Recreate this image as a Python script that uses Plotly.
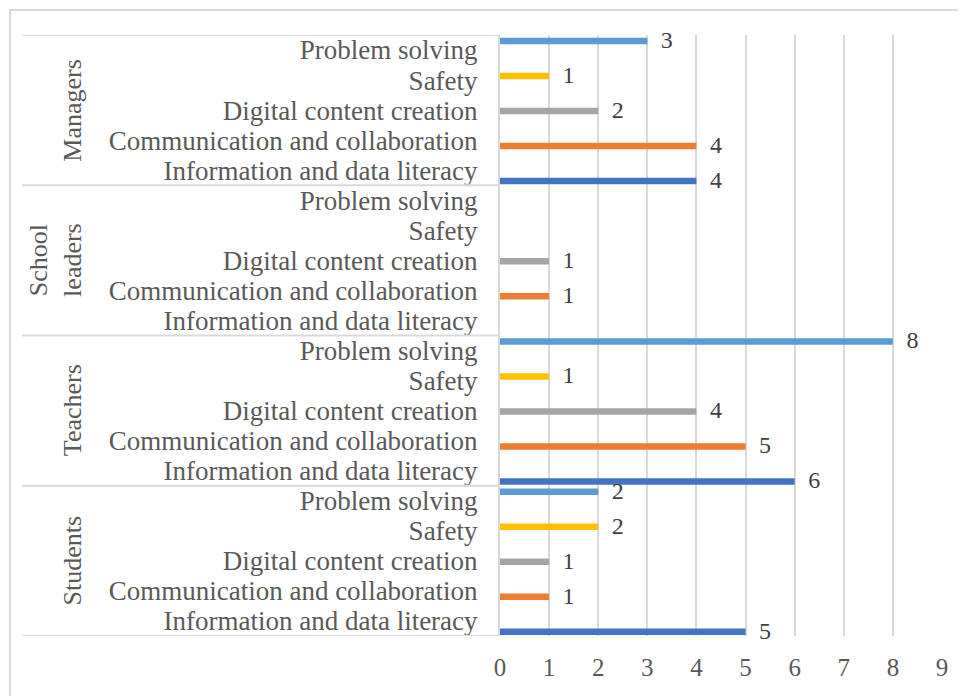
from plotly import graph_objects as go

# groups from bottom to top, competences from bottom to top within each group
groups = ["Students", "Teachers", "School<br>leaders", "Managers"]
competences = [
    "Information and data literacy",
    "Communication and collaboration",
    "Digital content creation",
    "Safety",
    "Problem solving",
]

# counts per competence, in the order of `groups` (None = no bar)
information_literacy = [5, 6, None, 4]
communication = [1, 5, 1, 4]
content_creation = [1, 4, 1, 2]
safety = [2, 1, None, 1]
problem_solving = [2, 8, None, 3]

series = [information_literacy, communication, content_creation, safety, problem_solving]
colors = ["#4472C4", "#ED7D31", "#A5A5A5", "#FFC000", "#5B9BD5"]

x_ticks = list(range(0, 10))

TEXT_GREY = "#595959"
LINE_GREY = "#D9D9D9"
FONT = "Liberation Serif"

# the page body adds an 8px margin, so the figure is drawn that much smaller
PAGE_PAD = 8
WIDTH, HEIGHT = 966 - PAGE_PAD, 696 - PAGE_PAD
# pixel geometry of the plot area (in figure pixels)
PLOT_LEFT, PLOT_RIGHT = 500 - PAGE_PAD, 942 - PAGE_PAD
PLOT_TOP, PLOT_BOTTOM = 35 - PAGE_PAD, 636 - PAGE_PAD


def px_to_paper_x(px):
    """screen pixel -> paper x"""
    return (px - PAGE_PAD - PLOT_LEFT) / (PLOT_RIGHT - PLOT_LEFT)


def px_to_paper_y(py):
    """screen pixel -> paper y"""
    return (PLOT_BOTTOM - (py - PAGE_PAD)) / (PLOT_BOTTOM - PLOT_TOP)


n_comp = len(competences)
bar_width = 0.22

fig = go.Figure()

for i, (values, color) in enumerate(zip(series, colors)):
    # excel-like clustered layout: each series sits a bit higher inside its slot
    shift = (i - 2) * 0.165 - 0.03
    positions = [g * n_comp + i for g in range(len(groups))]
    fig.add_trace(
        go.Bar(
            x=values,
            y=positions,
            orientation="h",
            width=bar_width,
            offset=shift - bar_width / 2,
            marker=dict(color=color, line=dict(width=0)),
            name=competences[i],
            hoverinfo="x",
        )
    )
    # data labels, pushed away from the bar end by an invisible marker
    fig.add_trace(
        go.Scatter(
            x=values,
            y=[p + shift - 0.03 for p in positions],
            mode="markers+text",
            text=[str(v) if v is not None else "" for v in values],
            textposition="middle right",
            textfont=dict(family=FONT, size=24, color="#404040"),
            marker=dict(size=20, color="rgba(0,0,0,0)"),
            cliponaxis=False,
            hoverinfo="skip",
        )
    )

# group dividers on the category axis
for g in range(len(groups) + 1):
    fig.add_shape(
        type="line",
        xref="paper",
        yref="y",
        x0=px_to_paper_x(22),
        x1=0,
        y0=g * n_comp - 0.5,
        y1=g * n_comp - 0.5,
        line=dict(color=LINE_GREY, width=2),
    )

# rotated group labels
for g, name in enumerate(groups):
    fig.add_annotation(
        text=name,
        xref="paper",
        yref="y",
        x=px_to_paper_x(89),
        y=g * n_comp + (n_comp - 1) / 2,
        xanchor="right",
        yanchor="middle",
        textangle=-90,
        showarrow=False,
        font=dict(family=FONT, size=26, color=TEXT_GREY),
    )

# chart area border
fig.add_shape(
    type="rect",
    xref="paper",
    yref="paper",
    x0=px_to_paper_x(10),
    x1=px_to_paper_x(1000),
    y0=px_to_paper_y(720),
    y1=px_to_paper_y(10),
    line=dict(color=LINE_GREY, width=2),
)

fig.update_layout(
    width=WIDTH,
    height=HEIGHT,
    barmode="overlay",
    showlegend=False,
    plot_bgcolor="white",
    paper_bgcolor="white",
    margin=dict(l=PLOT_LEFT, r=WIDTH - PLOT_RIGHT, t=PLOT_TOP, b=HEIGHT - PLOT_BOTTOM),
    font=dict(family=FONT, color=TEXT_GREY),
)

fig.update_xaxes(
    range=[0, 9],
    tickvals=x_ticks,
    showgrid=True,
    gridcolor=LINE_GREY,
    gridwidth=2,
    zeroline=False,
    showline=False,
    ticks="",
    ticklabelstandoff=14,
    tickfont=dict(family=FONT, size=25, color=TEXT_GREY),
)

fig.update_yaxes(
    range=[-0.5, len(groups) * n_comp - 0.5],
    tickvals=list(range(len(groups) * n_comp)),
    ticktext=competences * len(groups),
    showgrid=False,
    zeroline=False,
    showline=True,
    linecolor=LINE_GREY,
    linewidth=2,
    ticks="",
    ticklabelstandoff=15,
    tickfont=dict(family=FONT, size=27, color=TEXT_GREY),
)

fig.write_html("out.html")
